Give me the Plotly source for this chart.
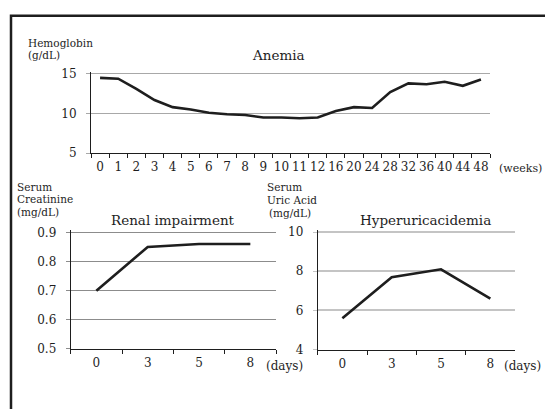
import plotly.graph_objects as go

W, H = 545, 409

# ---- data ----
weeks = ["0", "1", "2", "3", "4", "5", "6", "7", "8", "9", "10", "11", "12",
         "16", "20", "24", "28", "32", "36", "40", "44", "48"]
hemoglobin = [14.5, 14.4, 13.1, 11.7, 10.8, 10.5, 10.1, 9.9, 9.8, 9.5, 9.5, 9.4,
              9.5, 10.3, 10.8, 10.7, 12.7, 13.8, 13.7, 14.0, 13.5, 14.3]

days = ["0", "3", "5", "8"]
creatinine = [0.70, 0.85, 0.86, 0.86]
uric_acid = [5.6, 7.7, 8.1, 6.6]

hb_range = [5, 15]
cr_range = [0.5, 0.9]
ua_range = [4, 10]

FONT = "DejaVu Serif"
INK = "#1e1e1e"
PAD_PX = 2.0  # small headroom so the top gridline is drawn


def px(x):
    return x / W


def py(y):
    return 1 - y / H


fig = go.Figure()
line = dict(color=INK, width=2.6)
fig.add_trace(go.Scatter(x=weeks, y=hemoglobin, mode="lines", line=line,
                         xaxis="x", yaxis="y", showlegend=False))
fig.add_trace(go.Scatter(x=days, y=creatinine, mode="lines", line=line,
                         xaxis="x2", yaxis="y2", showlegend=False))
fig.add_trace(go.Scatter(x=days, y=uric_acid, mode="lines", line=line,
                         xaxis="x3", yaxis="y3", showlegend=False))

tickfont = dict(family=FONT, size=12, color=INK)


def xax(dom, anchor, cats):
    return dict(domain=dom, anchor=anchor, type="category", tickson="boundaries",
                categoryorder="array", categoryarray=cats,
                range=[-0.5, len(cats) - 0.5], tickangle=0,
                ticks="outside", ticklen=4, tickcolor=INK, showline=True,
                linecolor=INK, linewidth=1, showgrid=False, zeroline=False,
                tickfont=tickfont, fixedrange=True, ticklabelstandoff=3)


def yax(anchor, rng, y_lo, y_hi, dt, gc, gw=1, fmt=""):
    # y_lo / y_hi: pixel rows of range ends; add a little headroom on top
    ppu = (y_lo - y_hi) / (rng[1] - rng[0])
    top = rng[1] + PAD_PX / ppu
    dom = [py(y_lo), py(y_hi - PAD_PX)]
    return dict(domain=dom, anchor=anchor, range=[rng[0], top], dtick=dt,
                tick0=rng[0], ticks="outside", ticklen=4, tickcolor=gc,
                showline=True, linecolor=INK, linewidth=1, showgrid=True,
                gridcolor=gc, gridwidth=gw, zeroline=False, tickfont=tickfont,
                fixedrange=True, tickformat=fmt, ticklabelstandoff=7)


fig.update_layout(
    width=W, height=H, margin=dict(l=0, r=0, t=0, b=0),
    paper_bgcolor="white", plot_bgcolor="white",
    xaxis=xax([px(91), px(490)], "y", weeks),
    yaxis=yax("x", hb_range, 152.5, 71, 5, "#a8a8a8", 1.2),
    xaxis2=xax([px(70.7), px(276)], "y2", days),
    yaxis2=yax("x2", cr_range, 354.3, 234.3, 0.1, "#8c8c8c", 1, ".1f"),
    xaxis3=xax([px(317.7), px(515)], "y3", days),
    yaxis3=yax("x3", ua_range, 355, 234, 2, "#c4c4c4", 1.6),
    font=dict(family=FONT, color=INK),
)


def note(text, x, y, size, xa="left"):
    fig.add_annotation(text=text, x=px(x), y=py(y), xref="paper", yref="paper",
                       xanchor=xa, yanchor="middle", showarrow=False,
                       font=dict(family=FONT, size=size, color=INK))


# axis titles / units / chart titles
note("Hemoglobin", 26, 39, 10.5)
note("(g/dL)", 26, 52, 10.5)
note("Anemia", 278, 51, 13.5, "center")
note("(weeks)", 544, 168, 11, "right")

note("Serum", 15, 187, 10.5)
note("Creatinine", 15, 200, 10.5)
note("(mg/dL)", 15, 213, 10.5)
note("Renal impairment", 173, 222, 13.5, "center")
note("(days)", 284, 372, 12, "center")

note("Serum", 265, 188, 10.5)
note("Uric Acid", 265, 201, 10.5)
note("(mg/dL)", 267, 214, 10.5)
note("Hyperuricacidemia", 425, 222, 13.5, "center")
note("(days)", 522, 372, 12, "center")

# outer frame
fig.add_shape(type="rect", xref="paper", yref="paper",
              x0=px(11), y0=py(11), x1=px(570), y1=py(430),
              line=dict(color=INK, width=2.5), layer="above")

fig.write_html("out.html")
